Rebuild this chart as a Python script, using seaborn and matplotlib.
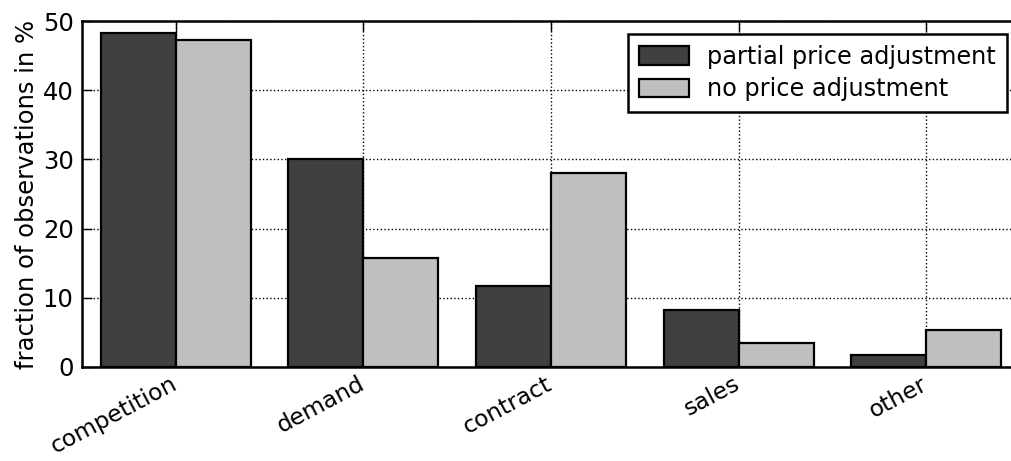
import numpy as np
import pandas as pd
import matplotlib
matplotlib.use("Agg")
import matplotlib.pyplot as plt
import matplotlib.transforms as mtransforms
import seaborn as sns

# Reasons given for price decisions, share of observations per group (%)
categories = ["competition", "demand", "contract", "sales", "other"]
partial_adjustment = [48.3, 30.0, 11.7, 8.3, 1.7]
no_adjustment = [47.3, 15.8, 28.0, 3.5, 5.3]
series_names = ["partial price adjustment", "no price adjustment"]
y_ticks = [0, 10, 20, 30, 40, 50]

df = pd.DataFrame({
    "reason": categories * 2,
    "share": partial_adjustment + no_adjustment,
    "group": [series_names[0]] * len(categories) + [series_names[1]] * len(categories),
})

sns.set_style("white")
plt.rcParams["font.family"] = ["DejaVu Sans"]
plt.rcParams.update({
    "font.size": 17.5,
    "text.color": "black",
    "axes.labelcolor": "black",
    "xtick.color": "black",
    "ytick.color": "black",
})
FS = 17.5

fig = plt.figure(figsize=(10.11, 4.61), dpi=100)
ax = fig.add_axes([82 / 1011, 1 - 367 / 461, (1020 - 82) / 1011, (367 - 21) / 461])

sns.barplot(
    data=df, x="reason", y="share", hue="group", hue_order=series_names,
    palette=["#404040", "#bfbfbf"], edgecolor="black", linewidth=1.6,
    width=0.8, saturation=1, ax=ax, errorbar=None,
)

ax.set_xlim(-0.5, 4.5)
ax.set_ylim(0, 50)
ax.set_yticks(y_ticks)
ax.set_xlabel("")
ax.set_ylabel("fraction of observations in %", fontsize=FS, labelpad=3)

ax.set_xticks(range(len(categories)))
ax.set_xticklabels(categories, rotation=28, ha="right", fontsize=16.8)
ax.tick_params(axis="y", labelsize=FS)
ax.tick_params(direction="in", length=7, width=1, top=True, right=True,
               bottom=True, left=True, colors="black", pad=6)
ax.tick_params(axis="x", pad=4)
# nudge the slanted category labels a little to the right
shift = mtransforms.ScaledTranslation(0.05, 0, fig.dpi_scale_trans)
for lab in ax.get_xticklabels():
    lab.set_transform(lab.get_transform() + shift)

ax.grid(True, linestyle=":", color="black", linewidth=1)
for bar in ax.patches:
    bar.set_zorder(2.5)
for gl in ax.get_xgridlines() + ax.get_ygridlines():
    gl.set_zorder(2)

for s in ax.spines.values():
    s.set_color("black")
    s.set_linewidth(1.8)
    s.set_zorder(3)

leg = ax.legend(loc="upper right", fontsize=17.3, frameon=True, fancybox=False,
                shadow=False, borderaxespad=0.55, handlelength=2.1, handleheight=0.8,
                borderpad=0.45, labelspacing=0.35, handletextpad=0.75)
leg.get_frame().set_edgecolor("black")
leg.get_frame().set_linewidth(1.8)
leg.get_frame().set_alpha(1)
for t in leg.get_texts():
    t.set_color("black")

fig.savefig("out.png", dpi=100)
